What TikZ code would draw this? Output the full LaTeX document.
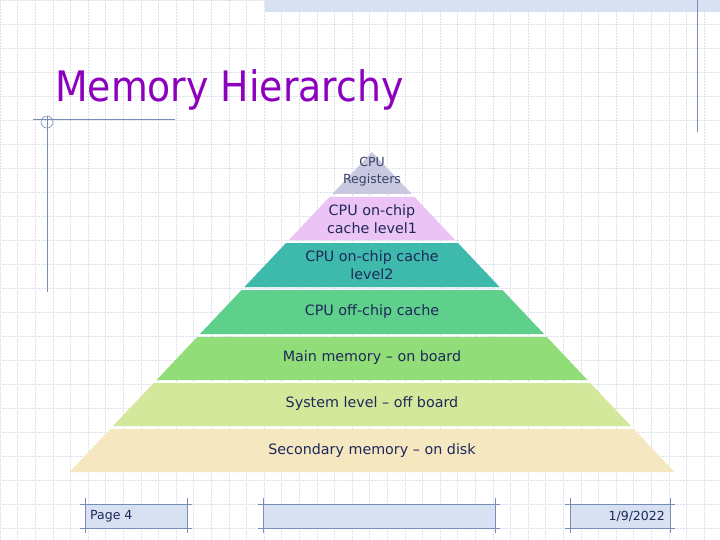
\documentclass[tikz,border=0pt]{standalone}
\usepackage{fontspec}
\setmainfont{DejaVu Sans}
\newfontfamily\titlefont{DejaVu Sans Condensed}
\begin{document}
\begin{tikzpicture}[x=1pt,y=-1pt,
  lab/.style={text=txt,font=\fontsize{14.3}{17.5}\selectfont,align=center,inner sep=0pt},
  frame/.style={draw=lineblue,line width=0.9pt}]
\definecolor{gridc}{RGB}{222,226,236}
\definecolor{lineblue}{RGB}{120,140,185}
\definecolor{bandblue}{RGB}{215,225,242}
\definecolor{txt}{RGB}{30,40,90}
\definecolor{c1}{RGB}{200,200,225}
\definecolor{c2}{RGB}{235,195,245}
\definecolor{c3}{RGB}{62,186,172}
\definecolor{c4}{RGB}{95,207,140}
\definecolor{c5}{RGB}{145,221,120}
\definecolor{c6}{RGB}{212,232,155}
\definecolor{c7}{RGB}{245,231,192}
\definecolor{ttl}{RGB}{140,0,190}
\useasboundingbox (0,0) rectangle (720,540);
\fill[white] (0,0) rectangle (720,540);
\foreach \x in {0,17.6,...,720} \draw[gridc,densely dotted,line width=0.5pt] (\x,0) -- (\x,540);
\foreach \y in {0,24,...,540} \draw[gridc,densely dotted,line width=0.5pt] (0,\y) -- (720,\y);
\fill[bandblue] (265,0) rectangle (720,12);
\draw[frame] (697,0) -- (697,132);
\draw[frame] (47,116) -- (47,292);
\draw[frame] (33,119) -- (175,119);
\draw[lineblue,line width=0.6pt] (47,122) circle (6);
\node[anchor=base west,text=ttl,font=\titlefont\fontsize{42}{48}\selectfont,inner sep=0pt] (title) at (55,102) {Memory Hierarchy};
\def\cx{372}\def\ap{152}\def\sl{0.945}
\foreach \t/\b/\c in {152/194/c1,197/240/c2,243/287/c3,290/334/c4,337/380/c5,383/426/c6,429/472/c7}{
  \pgfmathsetmacro\wt{(\t-\ap)*\sl}\pgfmathsetmacro\wb{(\b-\ap)*\sl}
  \fill[\c] (\cx-\wt,\t) -- (\cx+\wt,\t) -- (\cx+\wb,\b) -- (\cx-\wb,\b) -- cycle;
}
\node[lab,text=txt!70!gray,font=\fontsize{12.5}{17}\selectfont] (l1) at (372,172) {CPU\\Registers};
\node[lab] (l2) at (372,219) {CPU on-chip\\cache level1};
\node[lab] (l3) at (372,265) {CPU on-chip cache\\level2};
\node[lab] (l4) at (372,312) {CPU off-chip cache};
\node[lab] (l5) at (372,358) {Main memory -- on board};
\node[lab] (l6) at (372,404) {System level -- off board};
\node[lab] (l7) at (372,451) {Secondary memory -- on disk};
\foreach \a/\b in {85/187,263/495,570/670}{
  \fill[bandblue] (\a,504) rectangle (\b,528);
  \draw[frame] (\a-5,504) -- (\b+5,504) (\a-5,528) -- (\b+5,528) (\a,498) -- (\a,533) (\b,498) -- (\b,533);
}
\node[anchor=west,text=txt,font=\fontsize{12.5}{14}\selectfont,inner sep=0pt] (pg) at (90,516) {Page 4};
\node[anchor=east,text=txt,font=\fontsize{12.5}{14}\selectfont,inner sep=0pt] (dt) at (665,516) {1/9/2022};
\end{tikzpicture}
\end{document}
